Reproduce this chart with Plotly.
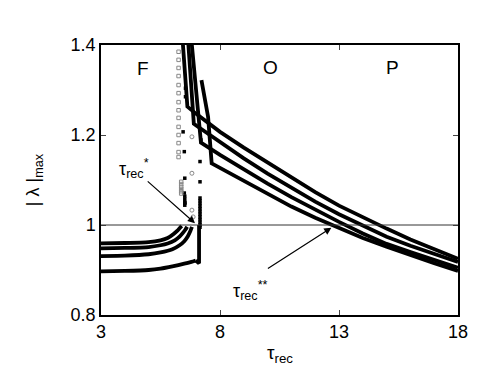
import plotly.graph_objects as go

# F branch (below the transition)
f1_tau = [3, 4, 5, 5.5, 5.8, 6.05, 6.2, 6.32, 6.39]
f1_lam = [0.959, 0.960, 0.962, 0.966, 0.971, 0.980, 0.987, 0.994, 0.998]
f2_tau = [3, 4, 5, 5.5, 5.8, 6.1, 6.3, 6.45, 6.55, 6.62]
f2_lam = [0.948, 0.949, 0.951, 0.955, 0.959, 0.966, 0.974, 0.983, 0.990, 0.996]
f3_tau = [3, 4, 5, 5.5, 6.0, 6.3, 6.5, 6.65, 6.75, 6.82]
f3_lam = [0.931, 0.932, 0.935, 0.939, 0.946, 0.955, 0.964, 0.975, 0.986, 0.996]
f4_tau = [3, 4, 5, 5.5, 6.0, 6.5, 6.8, 6.98, 7.12, 7.12]
f4_lam = [0.897, 0.898, 0.900, 0.903, 0.908, 0.914, 0.918, 0.921, 0.915, 1.0]

# O / P branch
o1_tau = [6.43, 6.63, 7, 8, 9, 10, 11, 12, 13, 14, 15, 16, 17, 18]
o1_lam = [1.41, 1.263, 1.247, 1.207, 1.172, 1.139, 1.105, 1.073, 1.043, 1.017, 0.992, 0.968, 0.946, 0.925]
o2_tau = [6.66, 6.9, 7, 8, 9, 10, 11, 12, 13, 14, 15, 16, 17, 18]
o2_lam = [1.41, 1.225, 1.221, 1.184, 1.148, 1.114, 1.082, 1.052, 1.024, 0.998, 0.974, 0.954, 0.935, 0.918]
o3_tau = [6.80, 7.2, 8, 9, 10, 11, 12, 13, 14, 15, 16, 17, 18]
o3_lam = [1.41, 1.183, 1.156, 1.123, 1.092, 1.062, 1.034, 1.007, 0.981, 0.958, 0.940, 0.922, 0.905]
o4_tau = [7.22, 7.5, 7.65, 8, 9, 10, 11, 12, 13, 14, 15, 16, 17, 18]
o4_lam = [1.322, 1.24, 1.137, 1.127, 1.097, 1.068, 1.041, 1.016, 0.993, 0.971, 0.952, 0.933, 0.915, 0.898]

# scattered points in the transition zone
col_tau = [7.16] * 12
col_lam = [0.995, 1.0, 1.006, 1.012, 1.018, 1.024, 1.030, 1.036, 1.042, 1.048, 1.054, 1.060]
dots_tau = [6.5, 6.52, 6.5, 6.52, 6.52, 6.52, 6.52, 6.53, 7.16, 7.16, 7.2, 6.55, 6.55, 6.45]
dots_lam = [1.163, 1.104, 1.071, 1.064, 1.057, 1.050, 1.044, 1.049, 1.141, 1.096, 1.189, 1.304, 1.285, 1.207]
sq_tau = [6.26] * 14 + [6.37] * 6
sq_lam = [1.385, 1.367, 1.349, 1.331, 1.311, 1.293, 1.273, 1.255, 1.238, 1.218, 1.2, 1.182, 1.162, 1.151,
          1.096, 1.091, 1.085, 1.080, 1.075, 1.070]
circ_tau = [6.82, 6.82, 6.82, 6.87]
circ_lam = [1.196, 1.115, 1.033, 1.018]

fig = go.Figure()
# smooth curves for the bending F branches, straight segments where there are corners
for t, l in [(f1_tau, f1_lam), (f2_tau, f2_lam), (f3_tau, f3_lam), (f4_tau[:-2], f4_lam[:-2])]:
    fig.add_trace(go.Scatter(x=t, y=l, mode="lines",
                             line=dict(color="black", width=3.8, shape="spline", smoothing=0.4)))
for t, l in [(f4_tau[-3:], f4_lam[-3:]), (o1_tau, o1_lam), (o2_tau, o2_lam), (o3_tau, o3_lam), (o4_tau, o4_lam)]:
    fig.add_trace(go.Scatter(x=t, y=l, mode="lines", line=dict(color="black", width=3.8)))

fig.add_trace(go.Scatter(x=col_tau, y=col_lam, mode="markers",
                         marker=dict(symbol="square", size=3.5, color="black")))
fig.add_trace(go.Scatter(x=dots_tau, y=dots_lam, mode="markers",
                         marker=dict(symbol="square", size=3.5, color="black")))
fig.add_trace(go.Scatter(x=sq_tau, y=sq_lam, mode="markers",
                         marker=dict(symbol="square-open", size=3.5, color="#888888", line=dict(width=1))))
fig.add_trace(go.Scatter(x=circ_tau, y=circ_lam, mode="markers",
                         marker=dict(symbol="circle-open", size=4, color="#888888", line=dict(width=1))))

fig.add_hline(y=1, line=dict(color="#333333", width=1))

font = "Liberation Sans, Arial, sans-serif"
ann = [
    dict(x=4.75, y=1.348, text="F", xref="x", yref="y", showarrow=False, font=dict(size=19)),
    dict(x=10.11, y=1.35, text="O", xref="x", yref="y", showarrow=False, font=dict(size=19)),
    dict(x=15.25, y=1.35, text="P", xref="x", yref="y", showarrow=False, font=dict(size=19)),
    dict(x=4.4, y=1.125, text="τ<sub>rec</sub><sup>*</sup>", xref="x", yref="y", showarrow=False,
         font=dict(size=18)),
    dict(x=9.3, y=0.855, text="τ<sub>rec</sub><sup>**</sup>", xref="x", yref="y", showarrow=False,
         font=dict(size=18)),
    dict(x=6.95, y=1.004, ax=4.9, ay=1.1, xref="x", yref="y", axref="x", ayref="y", text="",
         showarrow=True, arrowhead=2, arrowsize=1.2, arrowwidth=1.2, arrowcolor="black"),
    dict(x=12.68, y=0.994, ax=9.95, ay=0.901, xref="x", yref="y", axref="x", ayref="y", text="",
         showarrow=True, arrowhead=2, arrowsize=1.2, arrowwidth=1.2, arrowcolor="black"),
    dict(x=0.5, y=-0.195, xref="paper", yref="paper", text="τ<sub>rec</sub>", showarrow=False,
         font=dict(size=19)),
    dict(x=-0.225, y=0.5, xref="paper", yref="paper", text="| λ |<sub>max</sub>", showarrow=False,
         textangle=-90, font=dict(size=18)),
]

fig.update_layout(
    width=488, height=382,
    margin=dict(l=93, r=38, t=37, b=75),
    paper_bgcolor="white", plot_bgcolor="white",
    showlegend=False,
    font=dict(family=font, size=18, color="black"),
    annotations=ann,
)
fig.update_xaxes(range=[3, 18], tickvals=[3, 8, 13, 18], ticks="inside", ticklen=5,
                 showline=True, linecolor="black", linewidth=1.5, mirror="ticks",
                 showgrid=False, zeroline=False, tickfont=dict(size=18))
fig.update_yaxes(range=[0.8, 1.4], tickvals=[0.8, 1.0, 1.2, 1.4], ticktext=["0.8", "1", "1.2", "1.4"],
                 ticks="inside", ticklen=5, showline=True, linecolor="black", linewidth=1.5,
                 mirror="ticks", showgrid=False, zeroline=False, tickfont=dict(size=18))

fig.write_html("out.html")
